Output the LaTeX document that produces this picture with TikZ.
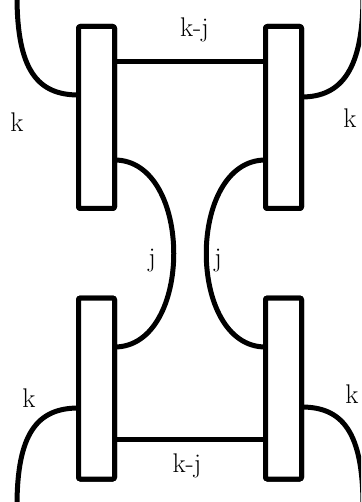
\documentclass[tikz,border=0pt]{standalone}
\usetikzlibrary{calc}
\begin{document}
\begin{tikzpicture}[x=1pt,y=-1pt,
  wire/.style={line width=5pt},
  boxnode/.style={draw,line width=5pt,rounded corners=2pt,fill=white,inner sep=0pt,outer sep=0pt,minimum width=36pt},
  lbl/.style={inner sep=0pt,anchor=base,font=\fontsize{27}{32}\selectfont}]
\useasboundingbox (0,0) rectangle (361,502);
\clip (0,0) rectangle (361,502);
% boxes
\node[boxnode,minimum height=182pt] (TL) at (96.5,117.5) {};
\node[boxnode,minimum height=182pt] (TR) at (283.5,117.5) {};
\node[boxnode,minimum height=181pt] (BL) at (96.5,388.5) {};
\node[boxnode,minimum height=181pt] (BR) at (283.5,388.5) {};
% anchor coordinates
\coordinate (tlk) at (TL.west |- 0,95);
\coordinate (trk) at (TR.east |- 0,97);
\coordinate (blk) at (BL.west |- 0,408);
\coordinate (brk) at (BR.east |- 0,407);
\coordinate (tlj) at (TL.east |- 0,160);
\coordinate (blj) at (BL.east |- 0,347);
\coordinate (trj) at (TR.west |- 0,160);
\coordinate (brj) at (BR.west |- 0,347);
\coordinate (tla) at (TL.east |- 0,62);
\coordinate (tra) at (TR.west |- 0,62);
\coordinate (bla) at (BL.east |- 0,439);
\coordinate (bra) at (BR.west |- 0,439);
\coordinate (e1) at (17,-4);
\coordinate (e2) at (363,-4);
\coordinate (e3) at (17,506);
\coordinate (e4) at (363,506);
% wires
\begin{scope}[on background layer/.style={}]
\draw[wire] (tla) -- (tra);
\draw[wire] (bla) -- (bra);
\draw[wire] (tlk) .. controls +(-41,0) and +(0,74) .. (e1);
\draw[wire] (trk) .. controls +(41,0) and +(0,72) .. (e2);
\draw[wire] (blk) .. controls +(-41,0) and +(0,-73) .. (e3);
\draw[wire] (brk) .. controls +(41,0) and +(0,-74) .. (e4);
\draw[wire] (tlj) .. controls +(79,0) and +(79,0) .. (blj);
\draw[wire] (trj) .. controls +(-79,0) and +(-79,0) .. (brj);
\end{scope}
% redraw boxes on top
\node[boxnode,minimum height=182pt] at (TL) {};
\node[boxnode,minimum height=182pt] at (TR) {};
\node[boxnode,minimum height=181pt] at (BL) {};
\node[boxnode,minimum height=181pt] at (BR) {};
% labels
\node[lbl] (l1) at (194.5,37) {k-j};
\node[lbl] (l2) at (187,472) {k-j};
\node[lbl] (l3) at (17,132) {k};
\node[lbl] (l4) at (350,128) {k};
\node[lbl] (l5) at (152,266) {j};
\node[lbl] (l6) at (218,266) {j};
\node[lbl] (l7) at (29,407) {k};
\node[lbl] (l8) at (352,403) {k};
\end{tikzpicture}
\end{document}
